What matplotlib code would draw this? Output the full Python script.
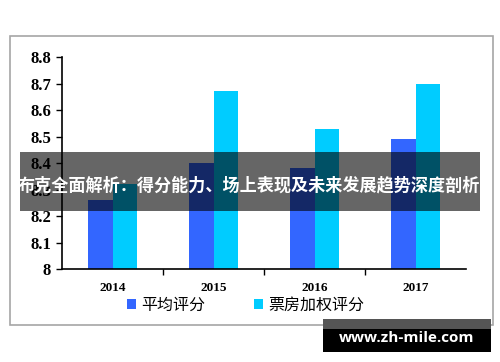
import numpy as np
import matplotlib.pyplot as plt
from matplotlib.patches import Rectangle

years = ['2014', '2015', '2016', '2017']
avg_score = [8.26, 8.40, 8.38, 8.49]      # 平均评分
box_score = [8.32, 8.67, 8.53, 8.70]      # 票房加权评分
series_names = ['平均评分', '票房加权评分']
yticks = [8, 8.1, 8.2, 8.3, 8.4, 8.5, 8.6, 8.7, 8.8]
ytick_labels = ['8', '8.1', '8.2', '8.3', '8.4', '8.5', '8.6', '8.7', '8.8']
banner = '布克全面解析：得分能力、场上表现及未来发展趋势深度剖析'
watermark = 'www.zh-mile.com'

blue = '#3366ff'
cyan = '#00ccff'

fig = plt.figure(figsize=(5, 3.62), dpi=100)
# outer frame
fig.patches.append(Rectangle((10 / 500, 1 - 325 / 362), 483 / 500, 289 / 362,
                             transform=fig.transFigure, fill=False,
                             edgecolor='#a6a6a6', linewidth=1.2))

ax = fig.add_axes([0.124, 0.2569, 0.808, 0.5856])
x = np.arange(len(years))
w = 0.245
b1 = ax.bar(x - w / 2, np.array(avg_score) - 8, w, bottom=8, color=blue, label=series_names[0])
b2 = ax.bar(x + w / 2, np.array(box_score) - 8, w, bottom=8, color=cyan, label=series_names[1])

ax.set_xlim(-0.5, 3.5)
ax.set_ylim(8, 8.8)
ax.set_yticks(yticks)
ax.set_yticklabels(ytick_labels, family='Liberation Serif', fontweight='bold', fontsize=12)
ax.set_xticks(x)
ax.set_xticklabels(years, family='Liberation Serif', fontweight='bold', fontsize=9.5)
ax.set_xticks([0.5, 1.5, 2.5], minor=True)
ax.tick_params(axis='x', which='major', length=0, pad=9)
ax.tick_params(axis='x', which='minor', length=4, width=1, direction='out')
ax.tick_params(axis='y', length=4, width=1, direction='out', pad=4)
for s in ['top', 'right']:
    ax.spines[s].set_visible(False)
for s in ['left', 'bottom']:
    ax.spines[s].set_linewidth(1.2)

leg = fig.legend(handles=[b1, b2], labels=series_names, loc='center',
                 bbox_to_anchor=(0.491, 0.157), ncol=2, frameon=False,
                 handlelength=0.55, handleheight=0.55, handletextpad=0.3,
                 columnspacing=3.1, prop={'family': 'Noto Sans CJK SC', 'size': 11.5})

# banner overlay
fig.patches.append(Rectangle((20 / 500, 1 - 211 / 362), 460 / 500, 59 / 362,
                             transform=fig.transFigure, facecolor='black',
                             alpha=0.6, edgecolor='none', zorder=10))
fig.text(0.498, 1 - 185 / 362, banner, ha='center', va='center', color='white',
         fontsize=12.3, fontweight='bold', family=['Noto Sans CJK SC', 'DejaVu Sans'],
         zorder=11)

# watermark box
fig.patches.append(Rectangle((323 / 500, 1 - 352 / 362), 168 / 500, 33 / 362,
                             transform=fig.transFigure, facecolor='black',
                             edgecolor='none', zorder=10))
fig.patches.append(Rectangle((323 / 500, 1 - 329 / 362), 168 / 500, 10 / 362,
                             transform=fig.transFigure, facecolor='#555555',
                             edgecolor='none', zorder=10))
fig.text(407 / 500, 1 - 338 / 362, watermark, ha='center', va='center',
         color='white', fontsize=11, fontweight='bold', family='Open Sans', zorder=11)

fig.savefig('out.png', dpi=100)
